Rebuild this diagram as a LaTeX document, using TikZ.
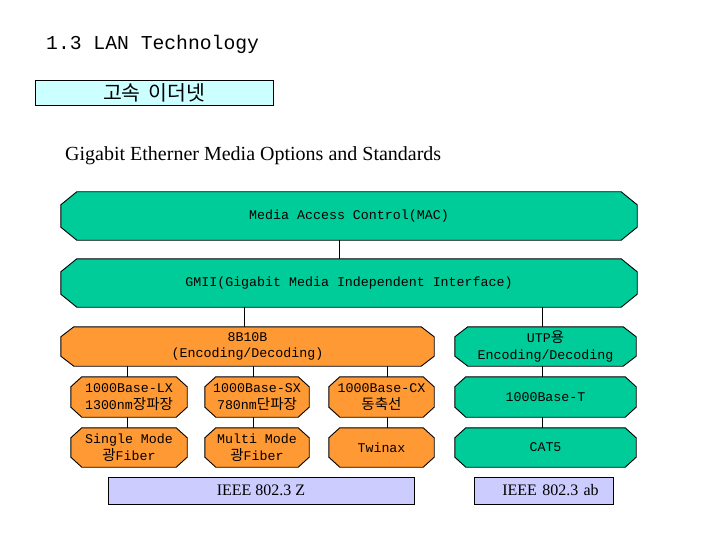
\documentclass[tikz,border=0pt]{standalone}
\usepackage{fontspec}
\setmainfont{Liberation Serif}
\setmonofont{Liberation Mono}
\newfontfamily\krfont{Noto Sans CJK KR}
\usetikzlibrary{calc}
\pgfdeclarelayer{background}
\pgfsetlayers{background,main}
\definecolor{tealfill}{RGB}{0,204,153}
\definecolor{orngfill}{RGB}{255,153,51}
\definecolor{lavfill}{RGB}{204,204,255}
\definecolor{cynfill}{RGB}{204,255,255}
\newcommand\kor[1]{{\krfont\fontsize{14.5}{16.5}\selectfont #1}}
\begin{document}
\begin{tikzpicture}[x=1pt,y=-1pt,
  bx/.style={inner sep=0pt, align=center, font=\ttfamily\fontsize{13.3}{16.5}\selectfont},
  std/.style={draw=black, line width=0.8pt, fill=lavfill, inner sep=0pt, font=\fontsize{16}{18}\selectfont},
  conn/.style={line width=0.9pt}]
\useasboundingbox (0,0) rectangle (720,540);

\node[anchor=base west, inner sep=0pt, font=\ttfamily\fontsize{19.7}{22}\selectfont] (title) at (46,50) {1.3 LAN Technology};
\node[draw=black, line width=0.8pt, fill=cynfill, minimum width=238, minimum height=25, inner sep=0pt,
      font=\krfont\fontsize{20.5}{22}\selectfont] (sub) at (154,92.5) {고속\hspace{3pt} 이더넷};
\node[anchor=base west, inner sep=0pt, font=\fontsize{20}{22}\selectfont] (cap) at (65,161) {Gigabit Etherner Media Options and Standards};

\node[bx, minimum width=576, minimum height=48] (mac) at (349,216) {Media Access Control(MAC)};
\node[bx, minimum width=576, minimum height=48] (gmii) at (349,283) {GMII(Gigabit Media Independent Interface)};
\node[bx, minimum width=373, minimum height=39] (enc) at (247.5,346.5) {8B10B\\(Encoding/Decoding)};
\node[bx, minimum width=181, minimum height=39] (utp) at (545.5,346.5) {UTP\kor{용}\\Encoding/Decoding};
\node[bx, minimum width=116, minimum height=40] (lx) at (129,397) {1000Base-LX\\1300nm\kor{장파장}};
\node[bx, minimum width=104, minimum height=40] (sx) at (257,397) {1000Base-SX\\780nm\kor{단파장}};
\node[bx, minimum width=105, minimum height=40] (cx) at (381.5,397) {1000Base-CX\\\kor{동축선}};
\node[bx, minimum width=181, minimum height=40] (bt) at (545.5,397) {1000Base-T};
\node[bx, minimum width=116, minimum height=39] (sm) at (129,447.5) {Single Mode\\\kor{광}Fiber};
\node[bx, minimum width=104, minimum height=39] (mm) at (257,447.5) {Multi Mode\\\kor{광}Fiber};
\node[bx, minimum width=105, minimum height=39] (tw) at (381.5,447.5) {Twinax};
\node[bx, minimum width=181, minimum height=39] (cat) at (545.5,447.5) {CAT5};

\node[std, minimum width=306, minimum height=27] (ieeez) at (261,490.5) {IEEE 802.3 Z};
\node[std, minimum width=139, minimum height=27, text width=139, align=center] (ieeeab) at (543.5,490.5) {\hspace*{14pt}IEEE 802.3 ab};

\begin{pgfonlayer}{background}
\fill[white] (0,0) rectangle (720,540);
\foreach \n/\h/\v/\c in {mac/16/13/tealfill, gmii/16/13/tealfill, enc/13/10/orngfill, utp/13/10/tealfill,
    lx/11/10/orngfill, sx/11/10/orngfill, cx/11/10/orngfill, bt/11/10/tealfill,
    sm/11/10/orngfill, mm/11/10/orngfill, tw/11/10/orngfill, cat/11/10/tealfill}
  \filldraw[fill=\c, draw=black, line width=0.9pt]
    ($(\n.north west)+(\h,0)$) -- ($(\n.north east)+(-\h,0)$) -- ($(\n.north east)+(0,\v)$)
    -- ($(\n.south east)+(0,-\v)$) -- ($(\n.south east)+(-\h,0)$) -- ($(\n.south west)+(\h,0)$)
    -- ($(\n.south west)+(0,-\v)$) -- ($(\n.north west)+(0,\v)$) -- cycle;
\end{pgfonlayer}

\coordinate (xa) at (339,0);
\coordinate (xb) at (244,0);
\coordinate (xc) at (542,0);
\coordinate (xd) at (127,0);
\coordinate (xe) at (253,0);
\coordinate (xf) at (387,0);

\draw[conn] (xa |- mac.south) -- (xa |- gmii.north);
\draw[conn] (xb |- gmii.south) -- (xb |- enc.north);
\draw[conn] (xc |- gmii.south) -- (xc |- utp.north);
\draw[conn] (xd |- enc.south) -- (xd |- lx.north);
\draw[conn] (xe |- enc.south) -- (xe |- sx.north);
\draw[conn] (xf |- enc.south) -- (xf |- cx.north);
\draw[conn] (xc |- utp.south) -- (xc |- bt.north);
\draw[conn] (xd |- lx.south) -- (xd |- sm.north);
\draw[conn] (xe |- sx.south) -- (xe |- mm.north);
\draw[conn] (xf |- cx.south) -- (xf |- tw.north);
\draw[conn] (xc |- bt.south) -- (xc |- cat.north);
\end{tikzpicture}
\end{document}
